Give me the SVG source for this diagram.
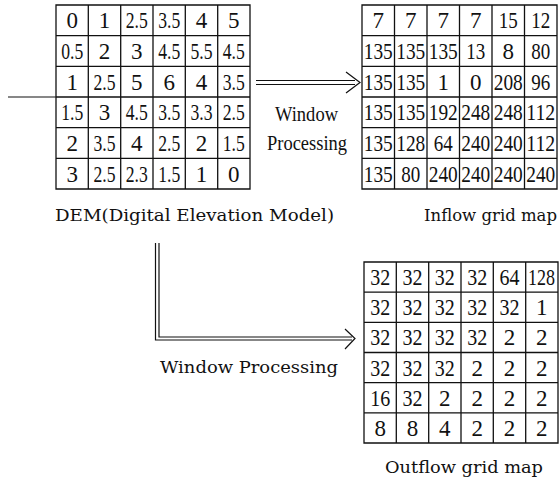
<svg xmlns="http://www.w3.org/2000/svg" width="560" height="487" viewBox="0 0 560 487">
<style>
.bg{fill:#ffffff}
.grid{fill:none;stroke:#111;stroke-width:1.3}
.arr{fill:none;stroke:#111;stroke-width:1.2}
.n{font-family:"Liberation Serif",serif;font-size:23px;fill:#111;text-anchor:middle}
.lbl{font-family:"DejaVu Serif",serif;font-size:17px;fill:#111}
.wp{font-family:"Liberation Serif",serif;font-size:21px;fill:#111;text-anchor:middle}
</style>
<rect class="bg" x="0" y="0" width="560" height="487"/>

<g id="connectors">
  <line class="arr" x1="8" y1="97" x2="56" y2="97"/>
  <line class="arr" x1="256" y1="80.5" x2="355" y2="80.5"/>
  <line class="arr" x1="256" y1="84.5" x2="355" y2="84.5"/>
  <polyline class="arr" points="346,72 360,82.5 346,93"/>
  <path class="arr" d="M155.5,243 V340 H352"/>
  <path class="arr" d="M159,243 V337 H352"/>
  <polyline class="arr" points="345,329 355,338.5 345,349"/>
</g>

<g id="dem">
  <path class="grid" d="M56,5 H250 V189 H56 Z M88.3,5 V189 M120.7,5 V189 M153,5 V189 M185.3,5 V189 M217.7,5 V189 M56,35.7 H250 M56,66.3 H250 M56,97 H250 M56,127.7 H250 M56,158.3 H250"/>
  <g class="n">
    <text x="72.2" y="28.1">0</text><text x="104.5" y="28.1">1</text><text x="136.8" y="28.1" textLength="22" lengthAdjust="spacingAndGlyphs">2.5</text><text x="169.2" y="28.1" textLength="22" lengthAdjust="spacingAndGlyphs">3.5</text><text x="201.5" y="28.1">4</text><text x="233.8" y="28.1">5</text>
    <text x="72.2" y="58.8" textLength="22" lengthAdjust="spacingAndGlyphs">0.5</text><text x="104.5" y="58.8">2</text><text x="136.8" y="58.8">3</text><text x="169.2" y="58.8" textLength="22" lengthAdjust="spacingAndGlyphs">4.5</text><text x="201.5" y="58.8" textLength="22" lengthAdjust="spacingAndGlyphs">5.5</text><text x="233.8" y="58.8" textLength="22" lengthAdjust="spacingAndGlyphs">4.5</text>
    <text x="72.2" y="89.5">1</text><text x="104.5" y="89.5" textLength="22" lengthAdjust="spacingAndGlyphs">2.5</text><text x="136.8" y="89.5">5</text><text x="169.2" y="89.5">6</text><text x="201.5" y="89.5">4</text><text x="233.8" y="89.5" textLength="22" lengthAdjust="spacingAndGlyphs">3.5</text>
    <text x="72.2" y="120.1" textLength="22" lengthAdjust="spacingAndGlyphs">1.5</text><text x="104.5" y="120.1">3</text><text x="136.8" y="120.1" textLength="22" lengthAdjust="spacingAndGlyphs">4.5</text><text x="169.2" y="120.1" textLength="22" lengthAdjust="spacingAndGlyphs">3.5</text><text x="201.5" y="120.1" textLength="22" lengthAdjust="spacingAndGlyphs">3.3</text><text x="233.8" y="120.1" textLength="22" lengthAdjust="spacingAndGlyphs">2.5</text>
    <text x="72.2" y="150.8">2</text><text x="104.5" y="150.8" textLength="22" lengthAdjust="spacingAndGlyphs">3.5</text><text x="136.8" y="150.8">4</text><text x="169.2" y="150.8" textLength="22" lengthAdjust="spacingAndGlyphs">2.5</text><text x="201.5" y="150.8">2</text><text x="233.8" y="150.8" textLength="22" lengthAdjust="spacingAndGlyphs">1.5</text>
    <text x="72.2" y="181.5">3</text><text x="104.5" y="181.5" textLength="22" lengthAdjust="spacingAndGlyphs">2.5</text><text x="136.8" y="181.5" textLength="22" lengthAdjust="spacingAndGlyphs">2.3</text><text x="169.2" y="181.5" textLength="22" lengthAdjust="spacingAndGlyphs">1.5</text><text x="201.5" y="181.5">1</text><text x="233.8" y="181.5">0</text>
  </g>
  <text class="lbl" x="55" y="221" textLength="279" lengthAdjust="spacingAndGlyphs">DEM(Digital Elevation Model)</text>
</g>

<g id="window-processing-1">
  <text class="wp" x="306.5" y="120.5" textLength="63" lengthAdjust="spacingAndGlyphs">Window</text>
  <text class="wp" x="307" y="150" textLength="80" lengthAdjust="spacingAndGlyphs">Processing</text>
</g>

<g id="inflow">
  <path class="grid" d="M362,5 H557 V189 H362 Z M394.5,5 V189 M427,5 V189 M459.5,5 V189 M492,5 V189 M524.5,5 V189 M362,35.7 H557 M362,66.3 H557 M362,97 H557 M362,127.7 H557 M362,158.3 H557"/>
  <g class="n">
    <text x="378.25" y="28.1">7</text><text x="410.75" y="28.1">7</text><text x="443.25" y="28.1">7</text><text x="475.75" y="28.1">7</text><text x="508.25" y="28.1" textLength="19" lengthAdjust="spacingAndGlyphs">15</text><text x="540.75" y="28.1" textLength="19" lengthAdjust="spacingAndGlyphs">12</text>
    <text x="378.25" y="58.8" textLength="29" lengthAdjust="spacingAndGlyphs">135</text><text x="410.75" y="58.8" textLength="29" lengthAdjust="spacingAndGlyphs">135</text><text x="443.25" y="58.8" textLength="29" lengthAdjust="spacingAndGlyphs">135</text><text x="475.75" y="58.8" textLength="19" lengthAdjust="spacingAndGlyphs">13</text><text x="508.25" y="58.8">8</text><text x="540.75" y="58.8" textLength="19" lengthAdjust="spacingAndGlyphs">80</text>
    <text x="378.25" y="89.5" textLength="29" lengthAdjust="spacingAndGlyphs">135</text><text x="410.75" y="89.5" textLength="29" lengthAdjust="spacingAndGlyphs">135</text><text x="443.25" y="89.5">1</text><text x="475.75" y="89.5">0</text><text x="508.25" y="89.5" textLength="29" lengthAdjust="spacingAndGlyphs">208</text><text x="540.75" y="89.5" textLength="19" lengthAdjust="spacingAndGlyphs">96</text>
    <text x="378.25" y="120.1" textLength="29" lengthAdjust="spacingAndGlyphs">135</text><text x="410.75" y="120.1" textLength="29" lengthAdjust="spacingAndGlyphs">135</text><text x="443.25" y="120.1" textLength="29" lengthAdjust="spacingAndGlyphs">192</text><text x="475.75" y="120.1" textLength="29" lengthAdjust="spacingAndGlyphs">248</text><text x="508.25" y="120.1" textLength="29" lengthAdjust="spacingAndGlyphs">248</text><text x="540.75" y="120.1" textLength="29" lengthAdjust="spacingAndGlyphs">112</text>
    <text x="378.25" y="150.8" textLength="29" lengthAdjust="spacingAndGlyphs">135</text><text x="410.75" y="150.8" textLength="29" lengthAdjust="spacingAndGlyphs">128</text><text x="443.25" y="150.8" textLength="19" lengthAdjust="spacingAndGlyphs">64</text><text x="475.75" y="150.8" textLength="29" lengthAdjust="spacingAndGlyphs">240</text><text x="508.25" y="150.8" textLength="29" lengthAdjust="spacingAndGlyphs">240</text><text x="540.75" y="150.8" textLength="29" lengthAdjust="spacingAndGlyphs">112</text>
    <text x="378.25" y="181.5" textLength="29" lengthAdjust="spacingAndGlyphs">135</text><text x="410.75" y="181.5" textLength="19" lengthAdjust="spacingAndGlyphs">80</text><text x="443.25" y="181.5" textLength="29" lengthAdjust="spacingAndGlyphs">240</text><text x="475.75" y="181.5" textLength="29" lengthAdjust="spacingAndGlyphs">240</text><text x="508.25" y="181.5" textLength="29" lengthAdjust="spacingAndGlyphs">240</text><text x="540.75" y="181.5" textLength="29" lengthAdjust="spacingAndGlyphs">240</text>
  </g>
  <text class="lbl" x="424" y="221" textLength="133" lengthAdjust="spacingAndGlyphs">Inflow grid map</text>
</g>

<g id="window-processing-2">
  <text class="lbl" x="160" y="373" textLength="178" lengthAdjust="spacingAndGlyphs">Window Processing</text>
</g>

<g id="outflow">
  <path class="grid" d="M364,262 H558 V443 H364 Z M396.3,262 V443 M428.7,262 V443 M461,262 V443 M493.3,262 V443 M525.7,262 V443 M364,292.2 H558 M364,322.3 H558 M364,352.5 H558 M364,382.7 H558 M364,412.8 H558"/>
  <g class="n">
    <text x="380.2" y="285" textLength="20" lengthAdjust="spacingAndGlyphs">32</text><text x="412.5" y="285" textLength="20" lengthAdjust="spacingAndGlyphs">32</text><text x="444.8" y="285" textLength="20" lengthAdjust="spacingAndGlyphs">32</text><text x="477.2" y="285" textLength="20" lengthAdjust="spacingAndGlyphs">32</text><text x="509.5" y="285" textLength="20" lengthAdjust="spacingAndGlyphs">64</text><text x="541.5" y="285" textLength="27" lengthAdjust="spacingAndGlyphs">128</text>
    <text x="380.2" y="315.2" textLength="20" lengthAdjust="spacingAndGlyphs">32</text><text x="412.5" y="315.2" textLength="20" lengthAdjust="spacingAndGlyphs">32</text><text x="444.8" y="315.2" textLength="20" lengthAdjust="spacingAndGlyphs">32</text><text x="477.2" y="315.2" textLength="20" lengthAdjust="spacingAndGlyphs">32</text><text x="509.5" y="315.2" textLength="20" lengthAdjust="spacingAndGlyphs">32</text><text x="541.8" y="315.2">1</text>
    <text x="380.2" y="345.3" textLength="20" lengthAdjust="spacingAndGlyphs">32</text><text x="412.5" y="345.3" textLength="20" lengthAdjust="spacingAndGlyphs">32</text><text x="444.8" y="345.3" textLength="20" lengthAdjust="spacingAndGlyphs">32</text><text x="477.2" y="345.3" textLength="20" lengthAdjust="spacingAndGlyphs">32</text><text x="509.5" y="345.3">2</text><text x="541.8" y="345.3">2</text>
    <text x="380.2" y="375.5" textLength="20" lengthAdjust="spacingAndGlyphs">32</text><text x="412.5" y="375.5" textLength="20" lengthAdjust="spacingAndGlyphs">32</text><text x="444.8" y="375.5" textLength="20" lengthAdjust="spacingAndGlyphs">32</text><text x="477.2" y="375.5">2</text><text x="509.5" y="375.5">2</text><text x="541.8" y="375.5">2</text>
    <text x="380.2" y="405.7" textLength="20" lengthAdjust="spacingAndGlyphs">16</text><text x="412.5" y="405.7" textLength="20" lengthAdjust="spacingAndGlyphs">32</text><text x="444.8" y="405.7">2</text><text x="477.2" y="405.7">2</text><text x="509.5" y="405.7">2</text><text x="541.8" y="405.7">2</text>
    <text x="380.2" y="435.8">8</text><text x="412.5" y="435.8">8</text><text x="444.8" y="435.8">4</text><text x="477.2" y="435.8">2</text><text x="509.5" y="435.8">2</text><text x="541.8" y="435.8">2</text>
  </g>
  <text class="lbl" x="385" y="473" textLength="158" lengthAdjust="spacingAndGlyphs">Outflow grid map</text>
</g>
</svg>
